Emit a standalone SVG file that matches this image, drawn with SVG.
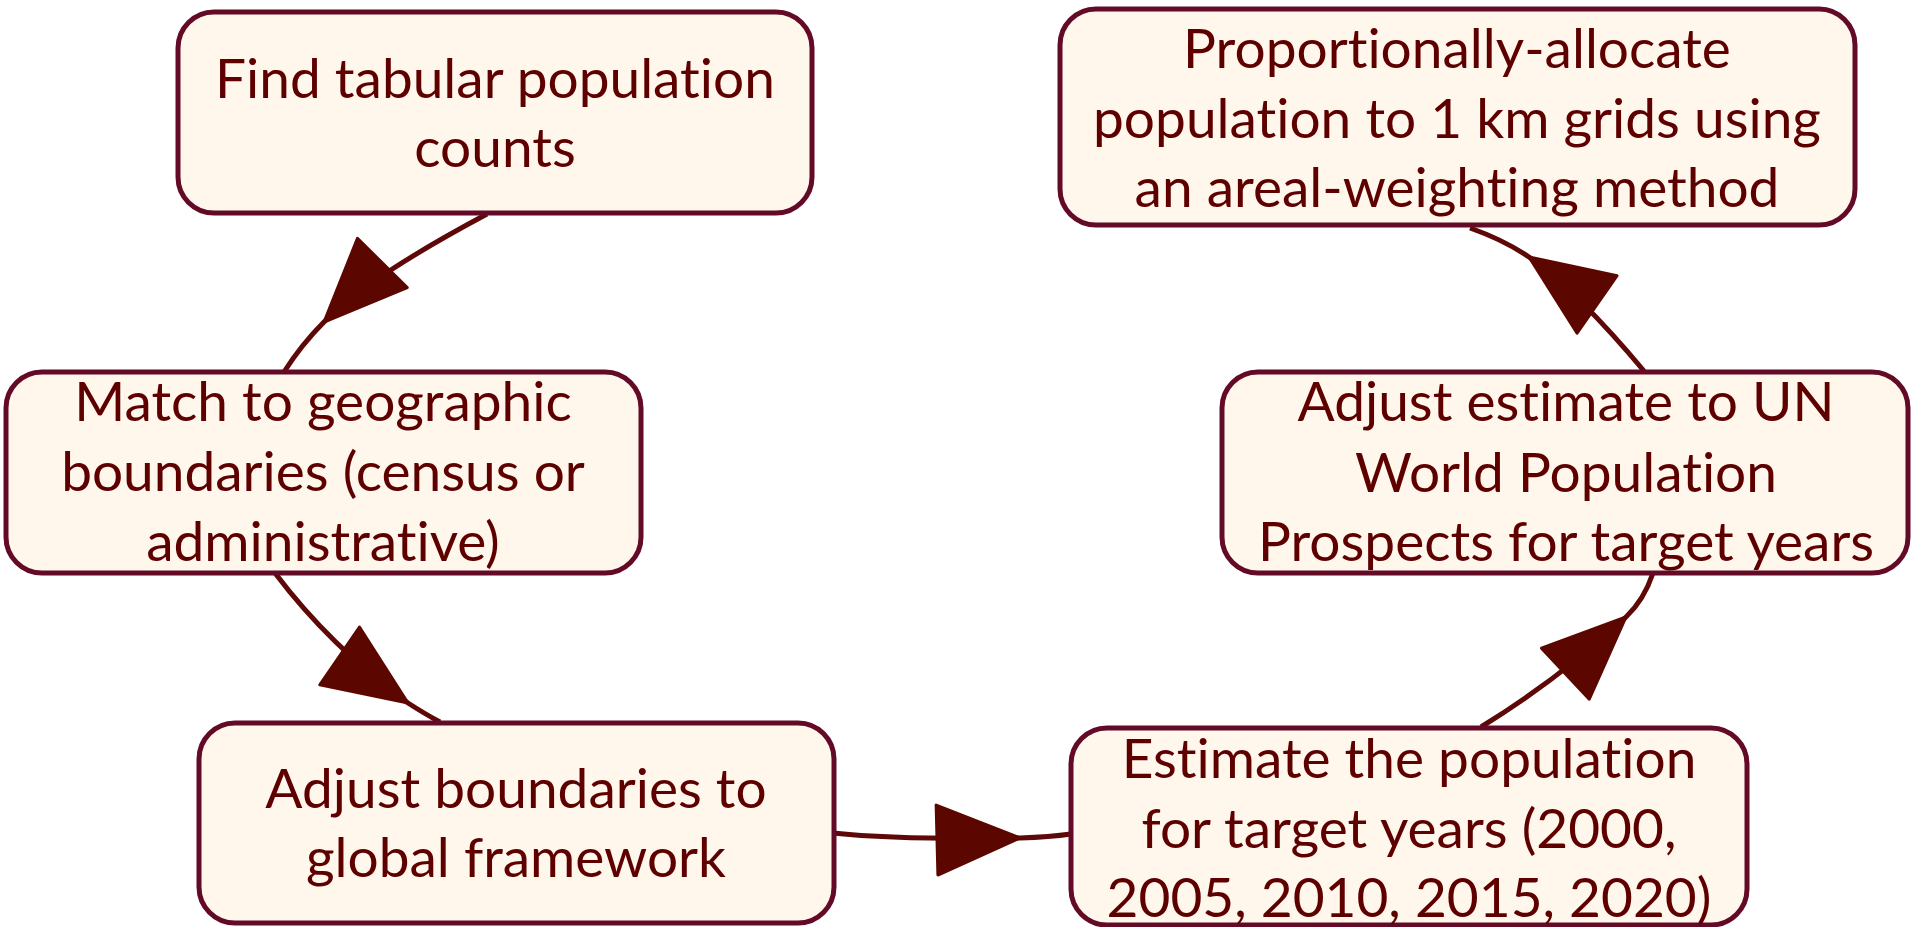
<svg xmlns="http://www.w3.org/2000/svg" width="1911" height="927" viewBox="0 0 1911 927">
<style>
.box{fill:#FFF6EC;stroke:#620A26;stroke-width:5}
.lbl{font-family:Lato,"Liberation Sans",sans-serif;font-size:55px;fill:#5E0000;text-anchor:middle;font-variant-ligatures:none}
.edge{fill:none;stroke:#5E0808;stroke-width:5;marker-mid:url(#ah)}
</style>
<defs>
<marker id="ah" markerUnits="userSpaceOnUse" markerWidth="200" markerHeight="200" refX="0" refY="0" orient="auto" overflow="visible">
<path d="M0,0 L-83,-35 L-83,35 Z" fill="#5C0600" stroke="#5C0600" stroke-width="3" stroke-linejoin="round"/>
</marker>
</defs>
<rect width="1911" height="927" fill="#FFFFFF"/>
<g id="connectors">
<path class="edge" d="M487,214 Q367,278 324,322 Q301,345 284,372"/>
<path class="edge" d="M275,573 Q330,646 408,703 Q425,714 440,722"/>
<path class="edge" d="M833,833 Q900,840 1020,838 Q1050,837 1071,834"/>
<path class="edge" d="M1481,727 Q1559,679 1626,617 Q1644,600 1653,573"/>
<path class="edge" d="M1644,371 Q1578,292 1529,257 Q1504,240 1470,228"/>
</g>
<g id="node-find">
<rect class="box" x="178" y="12" width="634" height="201" rx="36"/>
<text class="lbl" x="495" y="98">Find tabular population</text>
<text class="lbl" x="495" y="167">counts</text>
</g>
<g id="node-allocate">
<rect class="box" x="1060" y="9" width="795" height="216" rx="36"/>
<text class="lbl" x="1457" y="68">Proportionally-allocate</text>
<text class="lbl" x="1457" y="138">population to 1 km grids using</text>
<text class="lbl" x="1457" y="207">an areal-weighting method</text>
</g>
<g id="node-match">
<rect class="box" x="6" y="372" width="635" height="201" rx="36"/>
<text class="lbl" x="323" y="421">Match to geographic</text>
<text class="lbl" x="323" y="491">boundaries (census or</text>
<text class="lbl" x="323" y="561">administrative)</text>
</g>
<g id="node-un">
<rect class="box" x="1222" y="372" width="686" height="201" rx="36"/>
<text class="lbl" x="1566" y="421">Adjust estimate to UN</text>
<text class="lbl" x="1566" y="492">World Population</text>
<text class="lbl" x="1566" y="561">Prospects for target years</text>
</g>
<g id="node-adjust">
<rect class="box" x="199" y="723" width="635" height="200" rx="36"/>
<text class="lbl" x="516" y="808">Adjust boundaries to</text>
<text class="lbl" x="516" y="877">global framework</text>
</g>
<g id="node-estimate">
<rect class="box" x="1071" y="728" width="676" height="197" rx="36"/>
<text class="lbl" x="1409" y="778">Estimate the population</text>
<text class="lbl" x="1409" y="848">for target years (2000,</text>
<text class="lbl" x="1409" y="917">2005, 2010, 2015, 2020)</text>
</g>
</svg>
